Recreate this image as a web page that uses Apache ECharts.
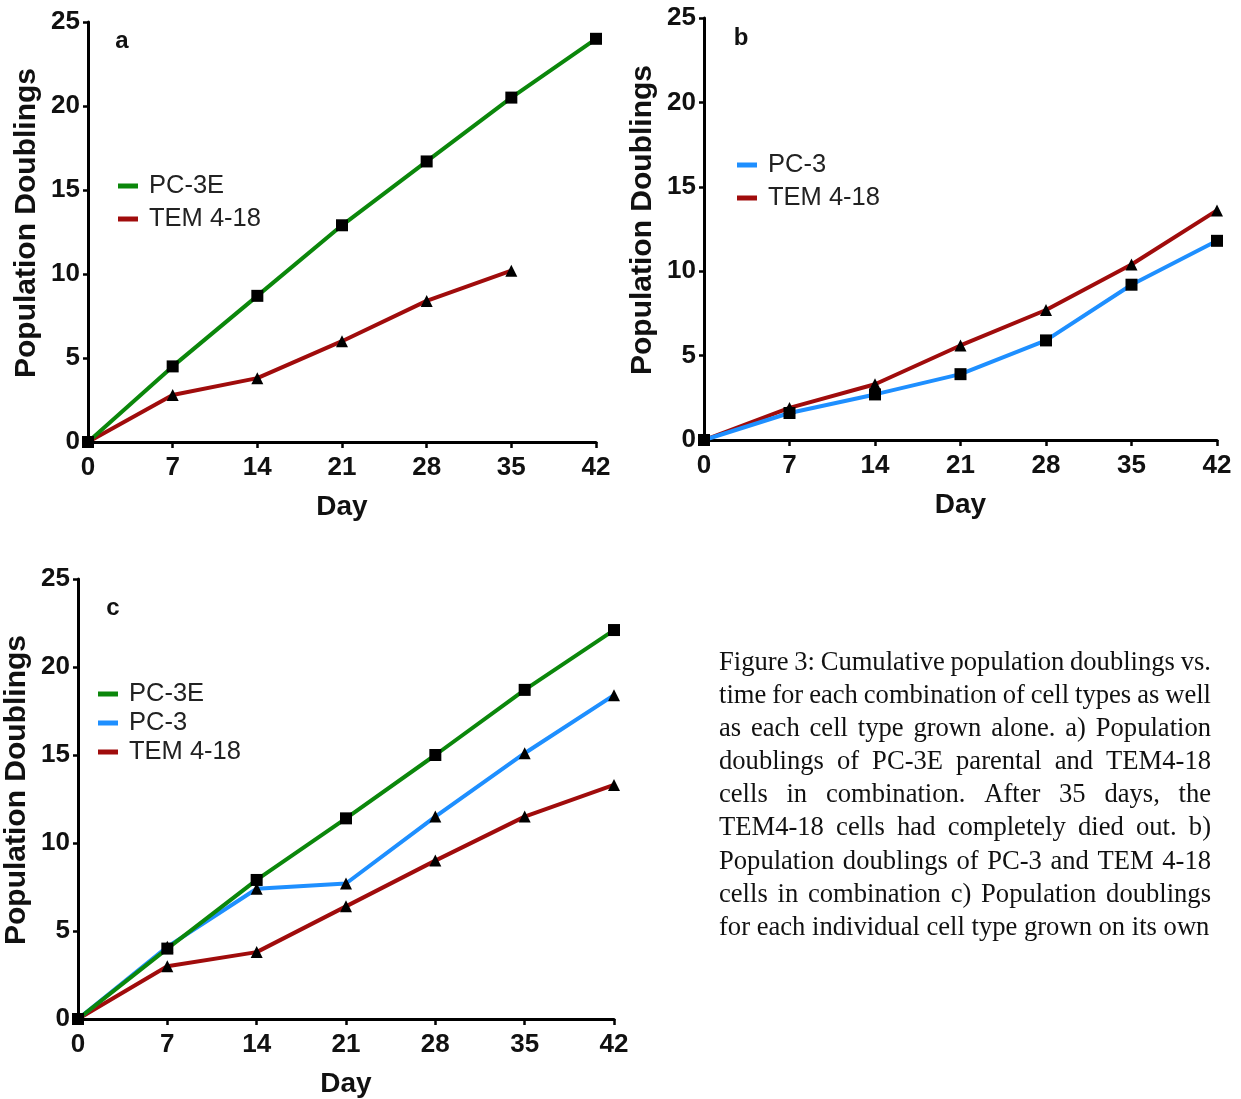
<!DOCTYPE html>
<html>
<head>
<meta charset="utf-8">
<script src="https://cdn.jsdelivr.net/npm/echarts@6/dist/echarts.min.js"></script>
<style>
  html, body { margin: 0; padding: 0; background: #fff; }
  #main { width: 1241px; height: 1099px; }
</style>
</head>
<body>
<div id="main"></div>
<script>
// Sampling days (x axis)
const days = [0, 7, 14, 21, 28, 35, 42];

// Panel a: PC-3E and TEM 4-18 in combination (TEM died out after day 35)
const aPC3E = [0, 4.5, 8.7, 12.9, 16.7, 20.5, 24.0];
const aTEM = [0, 2.8, 3.8, 6.0, 8.4, 10.2];

// Panel b: PC-3 and TEM 4-18 in combination
const bPC3 = [0, 1.6, 2.7, 3.9, 5.9, 9.2, 11.8];
const bTEM = [0, 1.9, 3.3, 5.6, 7.7, 10.4, 13.6];

// Panel c: each cell type grown alone
const cPC3E = [0, 4.0, 7.9, 11.4, 15.0, 18.7, 22.1];
const cPC3 = [0, 4.1, 7.4, 7.7, 11.5, 15.1, 18.4];
const cTEM = [0, 3.0, 3.8, 6.4, 9.0, 11.5, 13.3];

// Axis ranges
const yMin = 0, yMax = 25, yStep = 5;
const xMin = 0, xMax = 42, xStep = 7;

const panelLetters = ['a', 'b', 'c'];

const captionLines = [
  'Figure 3: Cumulative population doublings vs.',
  'time for each combination of cell types as well',
  'as each cell type grown alone. a) Population',
  'doublings of PC-3E parental and TEM4-18',
  'cells in combination. After 35 days, the',
  'TEM4-18 cells had completely died out. b)',
  'Population doublings of PC-3 and TEM 4-18',
  'cells in combination c) Population doublings',
  'for each individual cell type grown on its own'
];

const COLORS = { 'PC-3E': '#0b870b', 'PC-3': '#1e8fff', 'TEM 4-18': '#a00c0c' };
const SANS = '"Liberation Sans", Arial, sans-serif';
const SERIF = '"Liberation Serif", "Times New Roman", serif';

function pairs(values) {
  return values.map((v, i) => [days[i], v]);
}

const grids = [
  { left: 88, top: 22, right: 645, bottom: 657 },
  { left: 704, top: 18, right: 24, bottom: 659 },
  { left: 78, top: 579, right: 627, bottom: 77 }
];

function xAxisFor(i) {
  return {
    type: 'value', gridIndex: i, min: xMin, max: xMax, interval: xStep,
    name: 'Day', nameLocation: 'middle', nameGap: 51,
    nameTextStyle: { fontFamily: SANS, fontWeight: 'bold', fontSize: 28, color: '#111' },
    axisLine: { lineStyle: { color: '#000', width: 3 } },
    axisTick: { length: 6, lineStyle: { color: '#000', width: 2.5 } },
    axisLabel: { margin: 13, fontFamily: SANS, fontWeight: 'bold', fontSize: 26, color: '#111' },
    splitLine: { show: false }
  };
}

function yAxisFor(i) {
  return {
    type: 'value', gridIndex: i, min: yMin, max: yMax, interval: yStep,
    name: 'Population Doublings', nameLocation: 'middle', nameGap: 46,
    nameTextStyle: { fontFamily: SANS, fontWeight: 'bold', fontSize: 30, color: '#111', padding: [0, 0, 0, 18] },
    axisLine: { show: true, lineStyle: { color: '#000', width: 3 } },
    axisTick: { show: true, length: 5, lineStyle: { color: '#000', width: 2.5 } },
    axisLabel: { margin: 8, fontFamily: SANS, fontWeight: 'bold', fontSize: 26, color: '#111' },
    splitLine: { show: false }
  };
}

function lineSeries(name, values, grid, symbol) {
  return {
    type: 'line', name: name, xAxisIndex: grid, yAxisIndex: grid,
    data: pairs(values),
    symbol: symbol, symbolSize: 12,
    showAllSymbol: true,
    lineStyle: { color: COLORS[name], width: 4 },
    itemStyle: { color: '#000' },
    emphasis: { disabled: true },
    silent: true
  };
}

function legendFor(names, left, top, gap) {
  return {
    orient: 'vertical', left: left, top: top, padding: 0,
    itemWidth: 20, itemHeight: 5, itemGap: gap,
    selectedMode: false,
    textStyle: { fontFamily: SANS, fontSize: 25.5, color: '#222', lineHeight: 24, padding: [0, 0, 0, 6] },
    data: names.map(n => ({ name: n, icon: 'rect', itemStyle: { color: COLORS[n] } }))
  };
}

// Justified caption: each word placed separately so lines fill the column
function captionGraphics() {
  const ctx = document.createElement('canvas').getContext('2d');
  const font = '26.6px ' + SERIF;
  ctx.font = font;
  const left = 719, right = 1211, firstY = 663, step = 33.1;
  const out = [];
  captionLines.forEach((line, li) => {
    const words = line.split(' ');
    const widths = words.map(w => ctx.measureText(w).width);
    const total = widths.reduce((a, b) => a + b, 0);
    const last = li === captionLines.length - 1;
    const gap = last ? ctx.measureText(' ').width : (right - left - total) / (words.length - 1);
    let x = left;
    words.forEach((w, wi) => {
      out.push({
        type: 'text', x: x, y: firstY + li * step,
        style: { text: w, font: font, fill: '#111', textAlign: 'left', textVerticalAlign: 'middle' }
      });
      x += widths[wi] + gap;
    });
  });
  return out;
}

const letterPos = [[122, 41], [741, 38], [113, 608]];

const option = {
  animation: false,
  backgroundColor: '#fff',
  grid: grids,
  xAxis: [xAxisFor(0), xAxisFor(1), xAxisFor(2)],
  yAxis: [yAxisFor(0), yAxisFor(1), yAxisFor(2)],
  legend: [
    legendFor(['PC-3E', 'TEM 4-18'], 118, 173, 7),
    legendFor(['PC-3', 'TEM 4-18'], 737, 152, 7),
    legendFor(['PC-3E', 'PC-3', 'TEM 4-18'], 98, 681, 3)
  ],
  series: [
    lineSeries('TEM 4-18', aTEM, 0, 'triangle'),
    lineSeries('PC-3E', aPC3E, 0, 'rect'),
    lineSeries('TEM 4-18', bTEM, 1, 'triangle'),
    lineSeries('PC-3', bPC3, 1, 'rect'),
    lineSeries('TEM 4-18', cTEM, 2, 'triangle'),
    lineSeries('PC-3', cPC3, 2, 'triangle'),
    lineSeries('PC-3E', cPC3E, 2, 'rect')
  ],
  graphic: panelLetters.map((t, i) => ({
    type: 'text', x: letterPos[i][0], y: letterPos[i][1],
    style: { text: t, font: 'bold 24px ' + SANS, fill: '#111', textAlign: 'center', textVerticalAlign: 'middle' }
  })).concat(captionGraphics())
};

const chart = echarts.init(document.getElementById('main'), null, { renderer: 'canvas' });
chart.setOption(option);
</script>
</body>
</html>
